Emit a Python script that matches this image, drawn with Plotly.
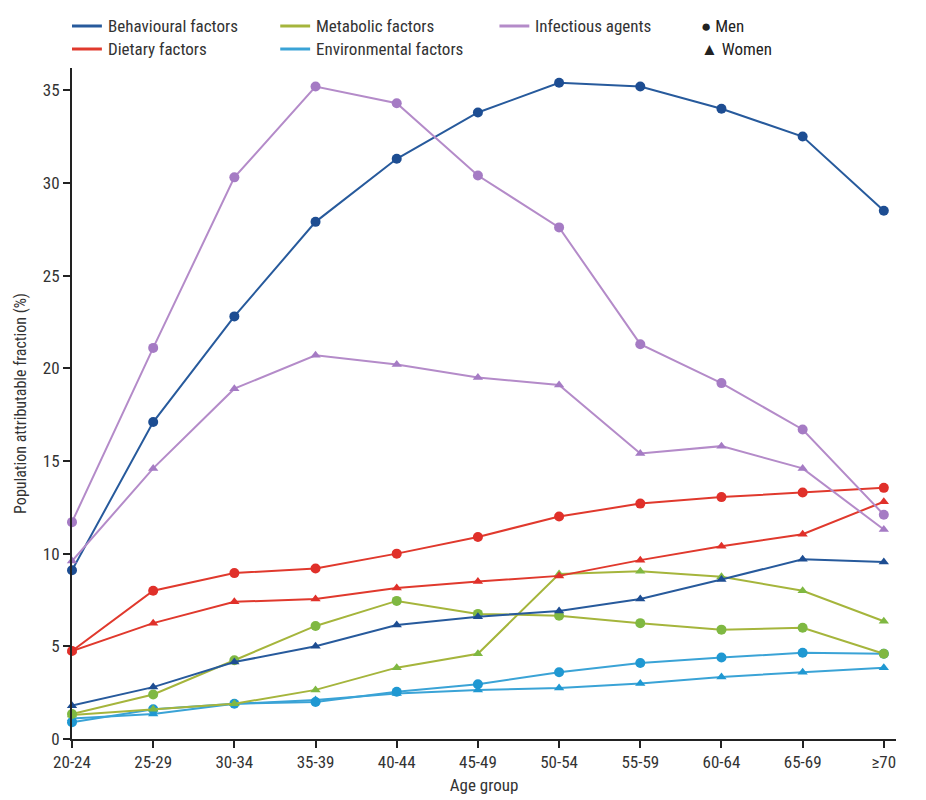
import plotly.graph_objects as go

age_groups = ["20-24", "25-29", "30-34", "35-39", "40-44", "45-49", "50-54", "55-59", "60-64", "65-69", "≥70"]

behavioural_men = [9.1, 17.1, 22.8, 27.9, 31.3, 33.8, 35.4, 35.2, 34.0, 32.5, 28.5]
behavioural_women = [1.8, 2.8, 4.15, 5.0, 6.15, 6.6, 6.9, 7.55, 8.6, 9.7, 9.55]
dietary_men = [4.75, 8.0, 8.95, 9.2, 10.0, 10.9, 12.0, 12.7, 13.05, 13.3, 13.55]
dietary_women = [4.75, 6.25, 7.4, 7.55, 8.15, 8.5, 8.8, 9.65, 10.4, 11.05, 12.8]
metabolic_men = [1.35, 2.4, 4.25, 6.1, 7.45, 6.75, 6.65, 6.25, 5.9, 6.0, 4.6]
metabolic_women = [1.3, 1.6, 1.9, 2.65, 3.85, 4.6, 8.9, 9.05, 8.75, 8.0, 6.35]
infectious_men = [11.7, 21.1, 30.3, 35.2, 34.3, 30.4, 27.6, 21.3, 19.2, 16.7, 12.1]
infectious_women = [9.6, 14.6, 18.9, 20.7, 20.2, 19.5, 19.1, 15.4, 15.8, 14.6, 11.3]
environmental_men = [0.9, 1.6, 1.9, 2.0, 2.55, 2.95, 3.6, 4.1, 4.4, 4.65, 4.6]
environmental_women = [1.1, 1.35, 1.9, 2.1, 2.45, 2.65, 2.75, 3.0, 3.35, 3.6, 3.85]

y_ticks = [0, 5, 10, 15, 20, 25, 30, 35]

xs = list(range(len(age_groups)))

series = [
    ("Environmental factors", environmental_women, environmental_men, "#3aa3d6", "#1f98d2"),
    ("Metabolic factors", metabolic_women, metabolic_men, "#a5b53c", "#7fb842"),
    ("Behavioural factors", behavioural_women, behavioural_men, "#275a9c", "#1d4d92"),
    ("Dietary factors", dietary_women, dietary_men, "#e0392d", "#e0302a"),
    ("Infectious agents", infectious_women, infectious_men, "#b48bc9", "#a57bc4"),
]

fig = go.Figure()
for name, women, men, lc, mc in series:
    fig.add_trace(go.Scatter(x=xs, y=women, mode="lines+markers", name=name + " (women)",
                             line=dict(color=lc, width=2),
                             marker=dict(symbol="triangle-up", size=9, color=mc),
                             cliponaxis=False, showlegend=False))
    fig.add_trace(go.Scatter(x=xs, y=men, mode="lines+markers", name=name + " (men)",
                             line=dict(color=lc, width=2),
                             marker=dict(symbol="circle", size=10, color=mc),
                             cliponaxis=False, showlegend=False))

FONT = "Roboto Condensed, Liberation Sans Narrow, Roboto, sans-serif"

# plot area in reference pixels: x 68..895, y 67..738
def px_x(p):
    return (p - 68) / 827.0

def px_y(p):
    return (738 - p) / 671.0

legend_items = [
    ("Behavioural factors", "#275a9c", 68, 25),
    ("Dietary factors", "#e0392d", 68, 48),
    ("Metabolic factors", "#a5b53c", 277, 25),
    ("Environmental factors", "#3aa3d6", 277, 48),
    ("Infectious agents", "#b48bc9", 497, 25),
]
shapes = []
annotations = []
for label, color, lx, ly in legend_items:
    shapes.append(dict(type="line", xref="paper", yref="paper",
                       x0=px_x(lx), x1=px_x(lx + 30), y0=px_y(ly), y1=px_y(ly),
                       line=dict(color=color, width=3)))
    annotations.append(dict(text=label, xref="paper", yref="paper", x=px_x(lx + 34), y=px_y(ly),
                            xanchor="left", yanchor="middle", showarrow=False,
                            font=dict(family=FONT, size=17, color="#333")))
annotations.append(dict(text="● Men", xref="paper", yref="paper", x=px_x(697), y=px_y(25),
                        xanchor="left", yanchor="middle", showarrow=False,
                        font=dict(family=FONT, size=17, color="#222")))
annotations.append(dict(text="▲ Women", xref="paper", yref="paper", x=px_x(697), y=px_y(48),
                        xanchor="left", yanchor="middle", showarrow=False,
                        font=dict(family=FONT, size=17, color="#222")))

fig.update_layout(
    width=926, height=800,
    margin=dict(l=61, r=38, t=60, b=69),
    paper_bgcolor="white", plot_bgcolor="white",
    font=dict(family=FONT, size=15, color="#333"),
    shapes=shapes, annotations=annotations,
    showlegend=False,
)
fig.update_xaxes(range=[0, 10.15], tickvals=xs, ticktext=age_groups,
                 showline=True, linecolor="#222", linewidth=2, ticks="outside",
                 ticklen=7, tickwidth=2, tickcolor="#222", showgrid=False, zeroline=False,
                 tickfont=dict(size=17),
                 title=dict(text="Age group", font=dict(size=17), standoff=8))
fig.update_yaxes(range=[0, 36.2], tickvals=y_ticks,
                 showline=True, linecolor="#222", linewidth=2, ticks="outside",
                 ticklen=7, tickwidth=2, tickcolor="#222", showgrid=False, zeroline=False,
                 tickfont=dict(size=17),
                 title=dict(text="Population attributable fraction (%)", font=dict(size=16), standoff=12))

fig.write_html("out.html")
